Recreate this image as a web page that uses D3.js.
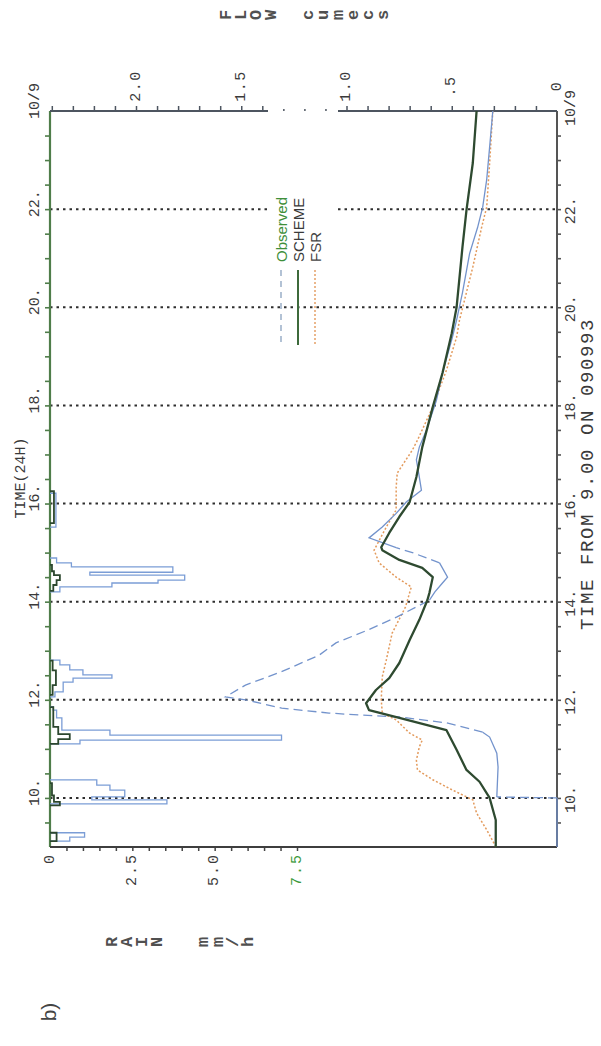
<!DOCTYPE html>
<html><head><meta charset="utf-8">
<script src="https://cdn.jsdelivr.net/npm/d3@7"></script>
<style>body{margin:0;background:#fff}</style>
</head><body>
<svg id="c" width="601" height="1046"></svg>
<script>
// ---------------- DATA ----------------
const timeGrid = [10, 12, 14, 16, 18, 20, 22];
const timeTickVals = [10, 12, 14, 16, 18, 20, 22, 24];
const timeTickLabels = ["10.", "12.", "14.", "16.", "18.", "20.", "22.", "10/9"];
const flowTickVals = [0, 0.5, 1.0, 1.5, 2.0];
const flowTickLabels = ["0", ".5", "1.0", "1.5", "2.0"];
const rainTickVals = [0, 2.5, 5.0, 7.5];
const rainTickLabels = ["0", "2.5", "5.0", "7.5"];

const obsTime = [9.0, 10.0, 10.02, 10.63, 10.91, 11.24, 11.34, 11.53, 11.65, 11.69, 11.73, 11.83, 12.0, 12.06, 12.3, 12.57, 12.91, 13.16, 13.42, 13.69, 14.03, 14.2, 14.38, 14.5, 14.79, 15.0, 15.1, 15.3, 15.52, 15.8, 16.03, 16.27, 16.54, 16.89, 17.15, 17.5, 18.1, 18.66, 19.4, 19.74, 20.3, 21.1, 21.63, 22.04, 22.6, 23.27, 24.0];
const obsFlow = [0, 0, 0.286, 0.28, 0.286, 0.32, 0.353, 0.525, 0.749, 0.94, 1.083, 1.308, 1.48, 1.575, 1.48, 1.31, 1.13, 1.05, 0.9, 0.76, 0.606, 0.58, 0.544, 0.52, 0.558, 0.687, 0.764, 0.893, 0.83, 0.764, 0.716, 0.644, 0.654, 0.668, 0.654, 0.62, 0.573, 0.544, 0.496, 0.477, 0.449, 0.415, 0.377, 0.353, 0.334, 0.32, 0.305];
const obsDashed = [[9.99, 10.03], [11.3, 14.05], [14.75, 15.12]];

const schemeTime = [9.0, 9.55, 10.0, 10.33, 10.57, 10.98, 11.38, 11.63, 11.79, 11.93, 12.2, 12.44, 12.75, 13.22, 13.63, 14.03, 14.18, 14.5, 14.69, 14.85, 15.05, 15.11, 15.4, 15.73, 16.03, 16.54, 17.15, 17.97, 18.66, 19.47, 20.0, 21.23, 21.98, 22.94, 24.0];
const schemeFlow = [0.291, 0.291, 0.32, 0.368, 0.43, 0.477, 0.525, 0.749, 0.893, 0.907, 0.86, 0.797, 0.749, 0.70, 0.654, 0.616, 0.606, 0.59, 0.64, 0.749, 0.83, 0.835, 0.797, 0.749, 0.70, 0.668, 0.64, 0.59, 0.544, 0.50, 0.477, 0.449, 0.43, 0.40, 0.382];

const fsrTime = [9.0, 9.35, 9.69, 9.96, 10.16, 10.37, 10.57, 10.77, 11.04, 11.18, 11.32, 11.59, 11.73, 12.0, 12.47, 12.81, 13.36, 13.89, 14.3, 14.5, 14.79, 15.05, 15.52, 15.87, 16.34, 16.62, 17.09, 17.29, 17.97, 18.72, 19.39, 19.74, 20.82, 21.63, 22.04, 22.94, 24.0];
const fsrFlow = [0.29, 0.334, 0.382, 0.40, 0.496, 0.59, 0.663, 0.668, 0.654, 0.64, 0.70, 0.764, 0.83, 0.835, 0.83, 0.811, 0.783, 0.72, 0.692, 0.764, 0.845, 0.869, 0.811, 0.764, 0.764, 0.759, 0.687, 0.663, 0.59, 0.525, 0.477, 0.463, 0.40, 0.358, 0.334, 0.32, 0.305];

// rainfall intervals: [start hour, end hour, mm/h]
const obsRain = [
  [9.12, 9.20, 0.6], [9.20, 9.29, 1.05],
  [9.88, 9.96, 3.55], [9.96, 10.02, 1.27], [10.02, 10.16, 2.27], [10.16, 10.26, 1.82], [10.26, 10.37, 1.42],
  [11.10, 11.18, 0.91], [11.18, 11.28, 7.03], [11.28, 11.38, 1.82], [11.38, 11.63, 0.36], [11.63, 11.79, 0.2], [11.79, 11.86, 0.1],
  [12.06, 12.16, 0.15], [12.16, 12.36, 0.4], [12.36, 12.44, 0.7], [12.44, 12.51, 1.88], [12.51, 12.61, 1.0], [12.61, 12.71, 0.6], [12.71, 12.81, 0.3],
  [14.20, 14.30, 0.3], [14.30, 14.38, 1.88], [14.38, 14.44, 3.28], [14.44, 14.54, 4.09], [14.54, 14.60, 1.21], [14.60, 14.71, 3.73], [14.71, 14.79, 0.65], [14.79, 14.89, 0.2],
  [15.52, 16.21, 0.18]
];
const modelRain = [
  [9.12, 9.29, 0.2],
  [9.85, 9.92, 0.3], [9.92, 10.05, 0.12], [10.05, 10.3, 0.06],
  [11.10, 11.20, 0.25], [11.20, 11.30, 0.6], [11.30, 11.45, 0.25], [11.45, 11.85, 0.1],
  [12.10, 12.30, 0.08], [12.30, 12.60, 0.18], [12.60, 12.80, 0.08],
  [14.22, 14.34, 0.1], [14.34, 14.44, 0.2], [14.44, 14.54, 0.3], [14.54, 14.62, 0.12], [14.62, 14.75, 0.06],
  [15.60, 16.25, 0.12]
];

// ---------------- SCALES ----------------
const svg = d3.select("#c");
svg.append("rect").attr("width", 601).attr("height", 1046).attr("fill", "#fff");
const yT = d3.scaleLinear().domain([9, 24]).range([847, 111]);
const xQ = d3.scaleLinear().domain([0, 2]).range([557, 136]);
const xR = d3.scaleLinear().domain([0, 7.5]).range([50, 297]);
const mono = "'Liberation Mono', 'DejaVu Sans Mono', monospace";
const sans = "'Liberation Sans', Arial, sans-serif";
const ink = "#3a3a3a";

// ---------------- GRID ----------------
const grid = svg.append("g");
timeGrid.forEach(t => {
  const segs = t === 22 ? [[50, 268], [338, 557]] : [[50, 557]];
  segs.forEach(s => grid.append("line")
    .attr("x1", s[0]).attr("x2", s[1]).attr("y1", yT(t)).attr("y2", yT(t))
    .attr("stroke", "#2e2e2e").attr("stroke-width", 2).attr("stroke-dasharray", "2.5,4"));
});

// ---------------- AXES ----------------
const halfHours = d3.range(9.5, 24, 0.5);
const leftAx = svg.append("g").attr("transform", "translate(50,0)")
  .call(d3.axisLeft(yT).tickValues(halfHours).tickSize(5).tickFormat(""));
leftAx.select(".domain").remove();
leftAx.selectAll("line").attr("stroke", "#4f7d4a").attr("stroke-width", 1.6);
const rightAx = svg.append("g").attr("transform", "translate(557,0)")
  .call(d3.axisRight(yT).tickValues(halfHours).tickSize(4).tickFormat(""));
rightAx.select(".domain").remove();
rightAx.selectAll("line").attr("stroke", "#555").attr("stroke-width", 1.6);
const topAx = svg.append("g").attr("transform", "translate(0,111)")
  .call(d3.axisTop(xQ).tickValues(d3.range(1, 25).map(d => d / 10)).tickSize(5).tickFormat(""));
topAx.select(".domain").remove();
topAx.selectAll("line").attr("stroke", "#4d5560").attr("stroke-width", 1.5)
  .attr("y2", d => (xQ(d) > 268 && xQ(d) < 338) ? -2 : -5);
const botAx = svg.append("g").attr("transform", "translate(0,847)")
  .call(d3.axisBottom(xR).tickValues(d3.range(1, 16).map(d => d / 2)).tickSize(4).tickFormat(""));
botAx.select(".domain").remove();
botAx.selectAll("line").attr("stroke", "#444").attr("stroke-width", 1.5);

// axis lines
svg.append("line").attr("x1", 50).attr("x2", 50).attr("y1", yT(24)).attr("y2", yT(9))
  .attr("stroke", "#4f7d4a").attr("stroke-width", 2.2);
svg.append("line").attr("x1", 557).attr("x2", 557).attr("y1", yT(24)).attr("y2", yT(9))
  .attr("stroke", "#555").attr("stroke-width", 2);
[[50, 268], [338, 557]].forEach(s => svg.append("line")
  .attr("x1", s[0]).attr("x2", s[1]).attr("y1", 111).attr("y2", 111)
  .attr("stroke", "#4d5560").attr("stroke-width", 2));
svg.append("line").attr("x1", 50).attr("x2", 557).attr("y1", 847).attr("y2", 847)
  .attr("stroke", "#3e3e3e").attr("stroke-width", 2.2);

// tick labels (rotated)
function rtext(x, y, txt, opts) {
  const t = svg.append("text").attr("transform", `translate(${x},${y}) rotate(-90)`)
    .attr("font-family", opts.font || mono).attr("font-size", opts.size || 15)
    .attr("fill", opts.fill || ink).attr("text-anchor", opts.anchor || "start")
    .attr("dominant-baseline", "central").text(txt);
  if (opts.ls) t.attr("letter-spacing", opts.ls);
  if (opts.weight) t.attr("font-weight", opts.weight);
  return t;
}
timeTickVals.forEach((t, i) => {
  rtext(35, yT(t) + 8, timeTickLabels[i], {size: 15});
  rtext(571, yT(t) + 15, timeTickLabels[i], {size: 15});
});
flowTickVals.forEach((v, i) => rtext(xQ(v), 86, flowTickLabels[i], {anchor: "middle", size: 15, ls: 1.5}));
rainTickVals.forEach((v, i) => rtext(xR(v), 853, rainTickLabels[i],
  {anchor: "end", size: 15, ls: 2, fill: v === 7.5 ? "#3c9a3c" : ink}));

// axis titles
rtext(21, 478, "TIME(24H)", {anchor: "middle", size: 15});
rtext(588, 474, "TIME FROM 9.00 ON 090993", {anchor: "middle", size: 19, ls: 1.6});
function stacked(x0, y, txt, step) {
  txt.split("").forEach((ch, i) => rtext(x0 + i * step, y, ch,
    {anchor: "middle", size: 17, weight: "bold", fill: "#505050"}));
}
stacked(226, 15, "FLOW", 15);
stacked(308, 15, "cumecs", 15);
stacked(112, 942, "RAIN", 15);
stacked(203, 942, "mm/h", 15);
rtext(48, 1012, "b)", {anchor: "middle", size: 21, font: sans, fill: "#444"});

// ---------------- RAIN ----------------
function rainPaths(blocks) {
  const groups = [];
  blocks.forEach(b => {
    const g = groups[groups.length - 1];
    if (g && Math.abs(g[g.length - 1][1] - b[0]) < 1e-6) g.push(b); else groups.push([b]);
  });
  return groups.map(g => {
    const pts = [[0, g[0][0]]];
    g.forEach(b => { pts.push([b[2], b[0]]); pts.push([b[2], b[1]]); });
    pts.push([0, g[g.length - 1][1]]);
    return pts;
  });
}
const rainLine = d3.line().x(d => xR(d[0])).y(d => yT(d[1]));
svg.append("g").selectAll("path").data(rainPaths(obsRain)).join("path")
  .attr("d", rainLine).attr("fill", "none").attr("stroke", "#7b9dd6").attr("stroke-width", 1.3);
svg.append("g").selectAll("path").data(rainPaths(modelRain)).join("path")
  .attr("d", rainLine).attr("fill", "none").attr("stroke", "#2c472e").attr("stroke-width", 1.8);

// ---------------- FLOW ----------------
const flowLine = d3.line().x(d => xQ(d[1])).y(d => yT(d[0]));
const fsrPts = fsrTime.map((t, i) => [t, fsrFlow[i]]);
svg.append("path").attr("d", flowLine(fsrPts)).attr("fill", "none")
  .attr("stroke", "#e39a5c").attr("stroke-width", 1.5).attr("stroke-dasharray", "2,2");

// observed split into solid / dashed runs
const obsPts = obsTime.map((t, i) => [t, obsFlow[i]]);
const isDashed = (a, b) => { const m = (a[0] + b[0]) / 2; return obsDashed.some(r => m >= r[0] && m <= r[1]); };
const runs = [];
for (let i = 0; i < obsPts.length - 1; i++) {
  const d = isDashed(obsPts[i], obsPts[i + 1]);
  const last = runs[runs.length - 1];
  if (last && last.dashed === d) last.pts.push(obsPts[i + 1]);
  else runs.push({dashed: d, pts: [obsPts[i], obsPts[i + 1]]});
}
svg.append("g").selectAll("path").data(runs).join("path")
  .attr("d", d => flowLine(d.pts)).attr("fill", "none")
  .attr("stroke", "#7393cc").attr("stroke-width", 1.3)
  .attr("stroke-dasharray", d => d.dashed ? "9,5" : null);

const schPts = schemeTime.map((t, i) => [t, schemeFlow[i]]);
svg.append("path").attr("d", flowLine(schPts)).attr("fill", "none")
  .attr("stroke", "#2e4a30").attr("stroke-width", 2.3).attr("stroke-linejoin", "round");

// ---------------- LEGEND ----------------
const legend = [
  {label: "Observed", color: "#3f8f3a", stroke: "#8aa2bf", dash: "6,5", w: 1.3, x: 281},
  {label: "SCHEME", color: "#3a3a3a", stroke: "#3d6a3b", dash: null, w: 2, x: 298},
  {label: "FSR", color: "#444", stroke: "#e39a5c", dash: "2,2", w: 1.4, x: 315}
];
legend.forEach(l => {
  rtext(l.x, 262, l.label, {font: sans, size: 15, fill: l.color});
  svg.append("line").attr("x1", l.x).attr("x2", l.x).attr("y1", 270).attr("y2", 345)
    .attr("stroke", l.stroke).attr("stroke-width", l.w).attr("stroke-dasharray", l.dash);
});
</script>
</body></html>
